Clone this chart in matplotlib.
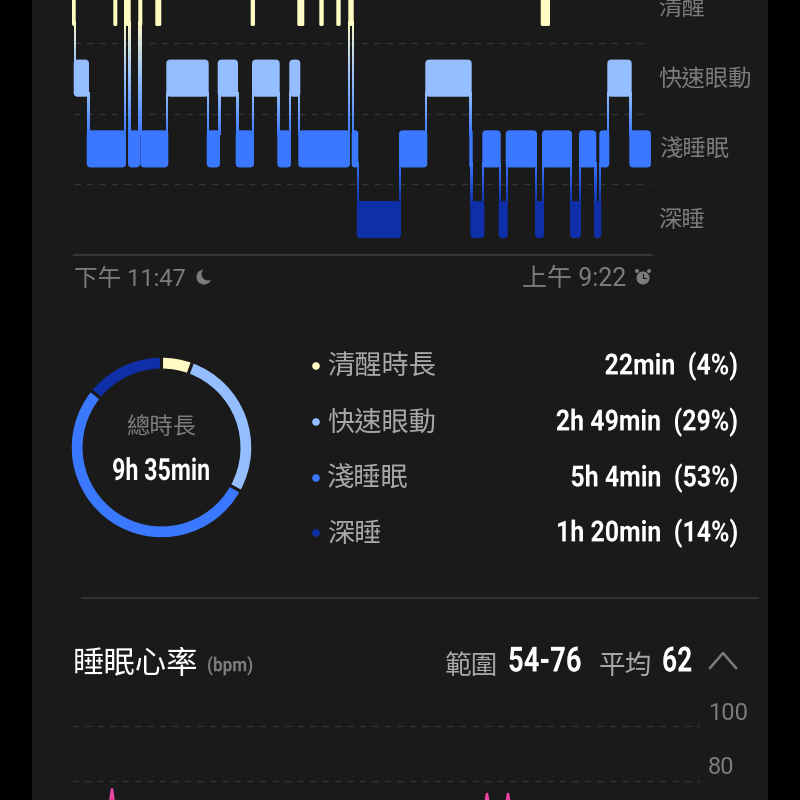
import matplotlib
matplotlib.use("Agg")
import matplotlib.pyplot as plt
import numpy as np
from matplotlib.colors import LinearSegmentedColormap
from matplotlib.patches import Circle, FancyBboxPatch
from matplotlib.patheffects import AbstractPathEffect
from matplotlib.transforms import Affine2D, ScaledTranslation

CJK = ['Noto Sans CJK TC', 'DejaVu Sans']
LATIN = ['Roboto', 'Noto Sans CJK TC']
plt.rcParams['font.family'] = CJK

BG = '#1a1a1a'
GRID = '#363636'
GRAY = '#7c7c7c'
LABEL = '#a8a8a8'

# sleep stages, 0 deep .. 3 awake. minutes after 23:47
stage_names = ['深睡', '淺睡眠', '快速眼動', '清醒']
stage_colors = ['#0e2fa8', '#3a78ff', '#94beff', '#fffbc2']

seg_start = [-2, -0.3, 12.7, 50, 54, 64.3, 66.3, 92.3, 132.7, 143.7, 161.7, 178, 203.3, 215.3, 224.3, 274.3, 277.7,
             282.7, 325, 351.3, 395.3, 396.3, 408.3, 424.7, 431.7, 461, 468, 496, 505, 520, 525.3, 533.3, 555.3]
seg_end = [1.7, 15, 52, 56.7, 66, 68.3, 94.3, 134.7, 146, 164, 180, 205.7, 217, 226.3, 276, 279.7, 284.3,
           327, 353.3, 397.7, 398.7, 410.3, 426.7, 433.7, 463, 470, 498, 507, 522.3, 527.3, 535.3, 557.7, 577]
seg_stage = [3, 2, 1, 3, 1, 3, 1, 2, 1, 2, 1, 2, 1, 2, 1, 3, 1,
             0, 1, 2, 1, 0, 1, 0, 1, 0, 1, 0, 1, 0, 1, 2, 1]

# short awake blips that have no connector to the other stages
blip_start = [39.3, 81.3, 176.7, 223.3, 245.3, 262.3, 466.7]
blip_end = [43.3, 87.3, 181, 230.3, 249.7, 266.7, 476]

donut_values = [20, 99, 190, 51]
legend_names = ['清醒時長', '快速眼動', '淺睡眠', '深睡']
legend_values = ['22min  (4%)', '2h 49min  (29%)', '5h 4min  (53%)', '1h 20min  (14%)']

# heart rate, only the tops of the peaks are in view
hr1_x = [38, 40, 42]
hr1_y = [72, 77, 72]
hr2_x = [413.5, 415, 416.5, 425, 434.5, 436, 437.5]
hr2_y = [72, 75.3, 72, 66, 72, 75.3, 72]
hr_ticks = [100, 80]

LEVEL_PX = 70.7


class Squeeze(AbstractPathEffect):
    # the screenshot uses a condensed font that is not installed, so narrow the text around x0 (pixels)
    def __init__(self, sx, x0):
        super().__init__()
        self.sx = sx
        self.x0 = x0

    def draw_path(self, renderer, gc, tpath, affine, rgbFace=None):
        a = affine + Affine2D().translate(-self.x0, 0).scale(self.sx, 1).translate(self.x0, 0)
        renderer.draw_path(gc, tpath, a, rgbFace)


def px_axes(fig, x0, y0, x1, y1):
    # axes from pixel box of the 800x800 picture, y counted from the top
    return fig.add_axes([x0 / 800, 1 - y1 / 800, (x1 - x0) / 800, (y1 - y0) / 800])


def bar(ax, x0, x1, level, color, h=0.525, round_px=4):
    r = min(round_px, (x1 - x0) / 2 - 0.01)
    patch = FancyBboxPatch((x0 + r, level - h / 2 + r / LEVEL_PX), x1 - x0 - 2 * r, h - 2 * r / LEVEL_PX,
                           boxstyle="round,pad=%f,rounding_size=%f" % (r, r), mutation_aspect=1 / LEVEL_PX,
                           fc=color, ec='none', clip_on=False, zorder=3)
    ax.add_patch(patch)


def narrow_text(ax, x, y, s, sx, ha='left', size=20, color='white'):
    t = ax.text(x, y, s, color=color, fontsize=size, ha=ha, va='center', fontweight='bold', family=LATIN)
    t.set_path_effects([Squeeze(sx, x)])
    return t


fig = plt.figure(figsize=(8, 8), dpi=100, facecolor='black')

# whole picture in pixels, for the panel and the loose texts
bg = fig.add_axes([0, 0, 1, 1], zorder=0)
bg.set_xlim(0, 800)
bg.set_ylim(800, 0)
bg.axis('off')
bg.fill_between([32, 768], 0, 800, color=BG, lw=0)

# hypnogram
ax = px_axes(fig, 74, 0, 651, 255)
ax.set_zorder(1)
ax.patch.set_alpha(0)
for s in ['top', 'left', 'right']:
    ax.spines[s].set_visible(False)
ax.spines['bottom'].set_color(GRID)
ax.spines['bottom'].set_linewidth(1.6)
ax.set_xticks([])
ax.yaxis.tick_right()
ax.set_yticks(range(4), stage_names, color=GRAY, fontsize=16.8)
ax.tick_params(axis='y', length=0, pad=5.5)
for lab in ax.get_yticklabels():
    lab.set_clip_on(False)
    lab.set_transform(lab.get_transform() + ScaledTranslation(0, 2 / 100, fig.dpi_scale_trans))
ax.hlines([0.5, 1.5, 2.5], 0, 577, color=GRID, lw=0.9, linestyles=(0, (5, 5)), zorder=1)

for a, b, s in zip(seg_start, seg_end, seg_stage):
    bar(ax, a, b, s, stage_colors[s])
for a, b in zip(blip_start, blip_end):
    bar(ax, a, b, 3, stage_colors[3], round_px=1.5)
# connectors between neighbouring segments fade from one colour to the next
for i in range(len(seg_stage) - 1):
    a = seg_start[i + 1]
    b = seg_end[i]
    s0, s1 = seg_stage[i], seg_stage[i + 1]
    lo, hi = min(s0, s1), max(s0, s1)
    cm = LinearSegmentedColormap.from_list('c', [stage_colors[k] for k in range(hi, lo - 1, -1)])
    grad = np.linspace(0, 1, 64).reshape(-1, 1)
    ax.imshow(grad, cmap=cm, extent=(a, b, lo + 0.2, hi - 0.2), aspect='auto', origin='upper', zorder=2.5,
              clip_on=False, interpolation='bilinear')
ax.set_xlim(0, 577)
ax.set_ylim(-0.5, 3.105)

# start and end time
bg.text(74, 279, '下午 11:47', color=GRAY, fontsize=17, va='center', ha='left', family=LATIN)
bg.text(626, 279, '上午 9:22', color=GRAY, fontsize=18, va='center', ha='right', family=LATIN)
bg.add_patch(Circle((204, 277), 7.5, fc=GRAY, ec='none'))
bg.add_patch(Circle((208, 274), 6.5, fc=BG, ec='none'))
bg.add_patch(Circle((643, 278), 6.5, fc=GRAY, ec='none'))
bg.add_patch(Circle((637, 271), 2, fc=GRAY, ec='none'))
bg.add_patch(Circle((649, 271), 2, fc=GRAY, ec='none'))
bg.plot([643, 643, 646], [274, 278, 278], color=BG, lw=0.8)

# donut
dax = px_axes(fig, 72, 358, 251, 537)
dax.set_zorder(1)
wedges, _ = dax.pie(donut_values, colors=[stage_colors[3], stage_colors[2], stage_colors[1], stage_colors[0]],
                    startangle=90, counterclock=False, radius=1.02,
                    wedgeprops=dict(width=0.155, edgecolor=BG, linewidth=2.2))
for w in wedges:
    w.set_clip_on(False)
dax.set_xlim(-1, 1)
dax.set_ylim(-1, 1)
bg.text(161, 427, '總時長', color=GRAY, fontsize=16.8, ha='center', va='center')
narrow_text(bg, 161, 471, '9h 35min', 0.76, ha='center', size=22)

# legend list
for i, (name, val) in enumerate(zip(legend_names, legend_values)):
    y = [366, 422, 478, 533][i]
    bg.add_patch(Circle((316, y), 3.8, fc=stage_colors[3 - i], ec='none'))
    bg.text(327, y + 1.5, name, color=LABEL, fontsize=19.6, ha='left', va='center')
    narrow_text(bg, 738, y, val, 0.855, ha='right', size=21)

bg.plot([82, 758], [598, 598], color=GRID, lw=1.3)

# heart rate header
bg.text(73, 664, '睡眠心率', color='white', fontsize=22.6, ha='left', va='center')
narrow_text(bg, 207, 666, '(bpm)', 0.88, size=14, color=GRAY)
bg.text(445, 666, '範圍', color=LABEL, fontsize=19.2, ha='left', va='center')
narrow_text(bg, 508, 662, '54-76', 0.79, size=25)
bg.text(599, 666, '平均', color=LABEL, fontsize=19.2, ha='left', va='center')
narrow_text(bg, 662, 662, '62', 0.76, size=25)
bg.plot([710, 723, 736], [668, 653, 668], color=GRAY, lw=1.8)

# heart rate chart, cut off by the bottom of the picture
hax = px_axes(fig, 72, 700, 700, 800)
hax.set_zorder(1)
hax.patch.set_alpha(0)
hax.set_xlim(0, 628)
hax.set_ylim(100 - 74 * 20 / 55, 100 + 26 * 20 / 55)
hax.axis('off')
hax.hlines(hr_ticks, 0, 628, color=GRID, lw=0.9, linestyles=(0, (5, 5)))
hax.plot(hr1_x, hr1_y, color='#ee45a5', lw=1.8)
hax.plot(hr2_x, hr2_y, color='#ee45a5', lw=1.8)
for t in hr_ticks:
    hax.text(636, t + 13 * 20 / 55, str(t), color=GRAY, fontsize=17, va='center', ha='left', family='Roboto',
             clip_on=False)

fig.savefig('out.png', dpi=100, facecolor=fig.get_facecolor())
